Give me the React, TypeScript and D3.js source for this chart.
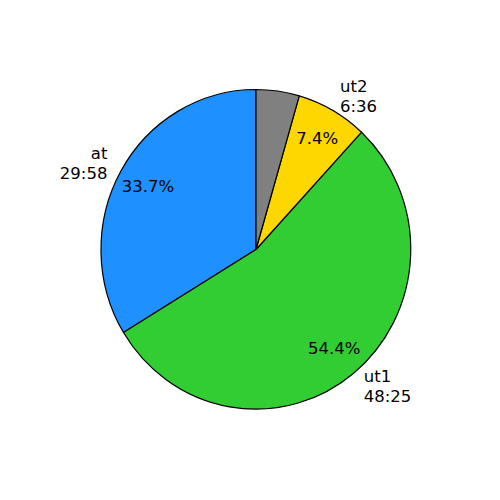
import React from "react";
import * as d3 from "d3";

const names = ["at", "ut1", "ut2", ""];
const times = ["29:58", "48:25", "6:36", ""];
const seconds = [1798, 2905, 396, 240];
const colors = ["#1E90FF", "#32CD32", "#FFD700", "#808080"];
const showPct = [true, true, true, false];

export default function App() {
  const cx = 256;
  const cy = 249.5;
  const rx = 155;
  const ry = 160;
  const data = seconds.map((v, i) => ({ v, i }));
  const total = d3.sum(seconds);
  const pie = d3
    .pie<{ v: number; i: number }>()
    .value((d) => d.v)
    .sort(null)
    .startAngle(0)
    .endAngle(-2 * Math.PI);
  const arcs = pie(data);
  const arc = d3.arc<any>().innerRadius(0).outerRadius(1);
  const fs = 16.5;
  return (
    <svg width={500} height={500} style={{ position: "absolute", left: 0, top: 0 }}>
      <rect width={500} height={500} fill="#fff" />
      <g transform={`translate(${cx},${cy}) scale(${rx},${ry})`}>
        {arcs.map((a) => (
          <path
            key={a.index}
            d={arc(a) || ""}
            fill={colors[a.data.i]}
            stroke="#000"
            strokeWidth={1.2}
            vectorEffect="non-scaling-stroke"
            strokeLinejoin="round"
          />
        ))}
      </g>
      {arcs.map((a) => {
        const m = (a.startAngle + a.endAngle) / 2;
        const ux = Math.sin(m);
        const uy = -Math.cos(m);
        const i = a.data.i;
        const lx = cx + 1.1 * rx * ux;
        const ly = cy + 1.1 * ry * uy;
        const px = cx + 0.8 * rx * ux;
        const py = cy + 0.8 * ry * uy;
        const anchor = ux >= 0 ? "start" : "end";
        return (
          <g key={"t" + i} fontFamily="DejaVu Sans" fontSize={fs} fill="#000">
            {names[i] !== "" && (
              <text textAnchor={anchor} dominantBaseline="central">
                <tspan x={lx} y={ly - 10}>{names[i]}</tspan>
                <tspan x={lx} y={ly + 10}>{times[i]}</tspan>
              </text>
            )}
            {showPct[i] && (
              <text x={px} y={py} textAnchor="middle" dominantBaseline="central">
                {((seconds[i] / total) * 100).toFixed(1) + "%"}
              </text>
            )}
          </g>
        );
      })}
    </svg>
  );
}
